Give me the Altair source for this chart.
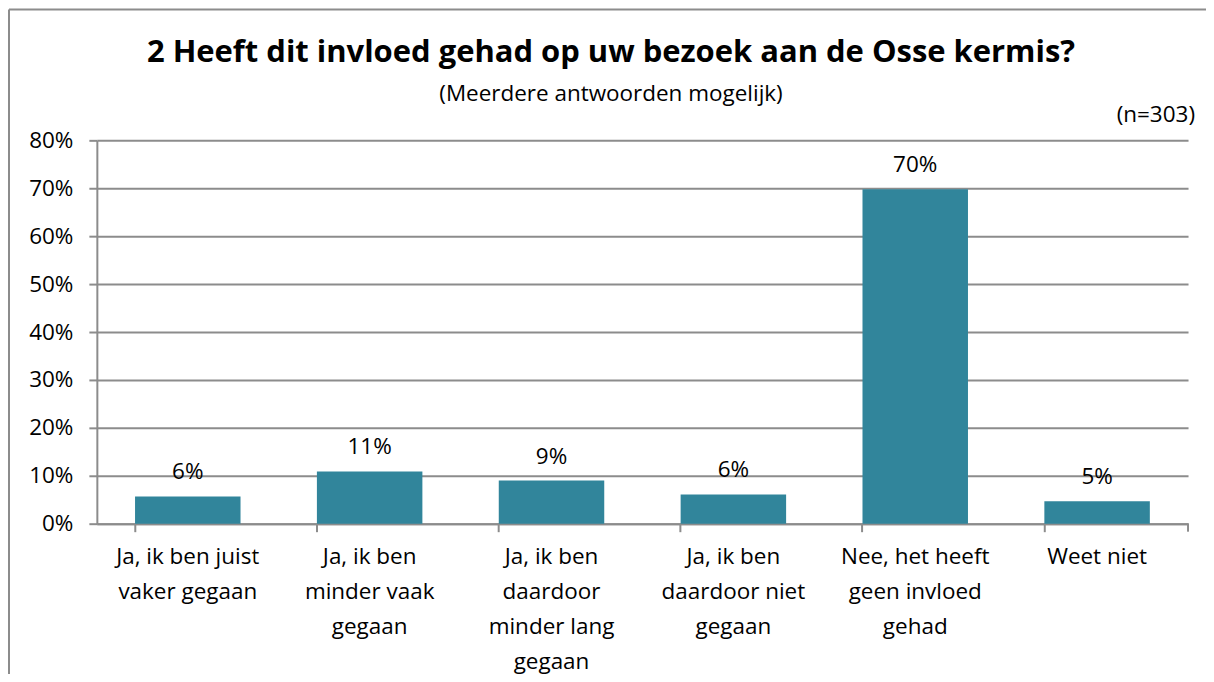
import altair as alt
import pandas as pd

categories = [
    "Ja, ik ben juist\nvaker gegaan",
    "Ja, ik ben\nminder vaak\ngegaan",
    "Ja, ik ben\ndaardoor\nminder lang\ngegaan",
    "Ja, ik ben\ndaardoor niet\ngegaan",
    "Nee, het heeft\ngeen invloed\ngehad",
    "Weet niet",
]
values = [0.057, 0.109, 0.090, 0.061, 0.698, 0.047]

title_text = "2 Heeft dit invloed gehad op uw bezoek aan de Osse kermis?"
subtitle_text = "(Meerdere antwoorden mogelijk)"
n_text = "(n=303)"

FONT = "Open Sans"
FS = 22.5
BAR = "#31859B"
GRID = "#8C8C8C"

df = pd.DataFrame({"cat": categories, "val": values})

W, H = 1093, 384

base = alt.Chart(df)

bars = base.mark_bar(color=BAR).encode(
    x=alt.X("cat:N", sort=categories, title=None,
            scale=alt.Scale(paddingInner=0.42, paddingOuter=0.21),
            axis=alt.Axis(labelExpr="split(datum.label, '\\n')", labelAngle=0,
                          labelFontSize=FS, labelFont=FONT, labelColor="black",
                          labelLineHeight=35, labelPadding=14, labelBaseline="top",
                          tickSize=8, tickColor=GRID, tickWidth=2, bandPosition=0,
                          domainColor=GRID, domainWidth=2, grid=False)),
    y=alt.Y("val:Q", title=None,
            scale=alt.Scale(domain=[0, 0.8]),
            axis=alt.Axis(format=".0%", values=[i / 10 for i in range(9)],
                          labelFontSize=FS, labelFont=FONT, labelColor="black",
                          labelPadding=16, tickSize=8, tickColor=GRID, tickWidth=2,
                          domainColor=GRID, domainWidth=2,
                          gridColor=GRID, gridWidth=2)),
)

labels = base.mark_text(baseline="alphabetic", dy=-17, fontSize=FS, font=FONT,
                        color="black").encode(
    x=alt.X("cat:N", sort=categories),
    y="val:Q",
    text=alt.Text("val:Q", format=".0%"),
)

one = alt.Data(values=[{"a": 1}])

end_tick = alt.Chart(one).mark_rule(color=GRID, strokeWidth=2).encode(
    x=alt.value(W), y=alt.value(H), y2=alt.value(H + 8))

border_left = alt.Chart(one).mark_rule(color=GRID, strokeWidth=2).encode(
    x=alt.value(-88), y=alt.value(-131), y2=alt.value(H + 160))
border_top = alt.Chart(one).mark_rule(color=GRID, strokeWidth=2).encode(
    x=alt.value(-88), x2=alt.value(W + 30), y=alt.value(-131))

title = alt.Chart(one).mark_text(align="center", baseline="middle", fontSize=31,
                                 font=FONT, fontWeight="bold", color="black").encode(
    x=alt.value(515), y=alt.value(-87), text=alt.value(title_text))
subtitle = alt.Chart(one).mark_text(align="center", baseline="middle", fontSize=FS,
                                    font=FONT, color="black").encode(
    x=alt.value(515), y=alt.value(-46), text=alt.value(subtitle_text))
n_label = alt.Chart(one).mark_text(align="right", baseline="middle", fontSize=FS,
                                   font=FONT, color="black").encode(
    x=alt.value(1100), y=alt.value(-25), text=alt.value(n_text))

chart = alt.layer(bars, labels, end_tick, border_left, border_top,
                  title, subtitle, n_label).properties(
    width=W, height=H,
    autosize=alt.AutoSizeParams(type="none"),
    padding={"left": 89, "top": 132, "right": 18, "bottom": 150},
).configure_view(stroke=None)

chart.save("out.html", embed_options={"renderer": "svg", "actions": False})
